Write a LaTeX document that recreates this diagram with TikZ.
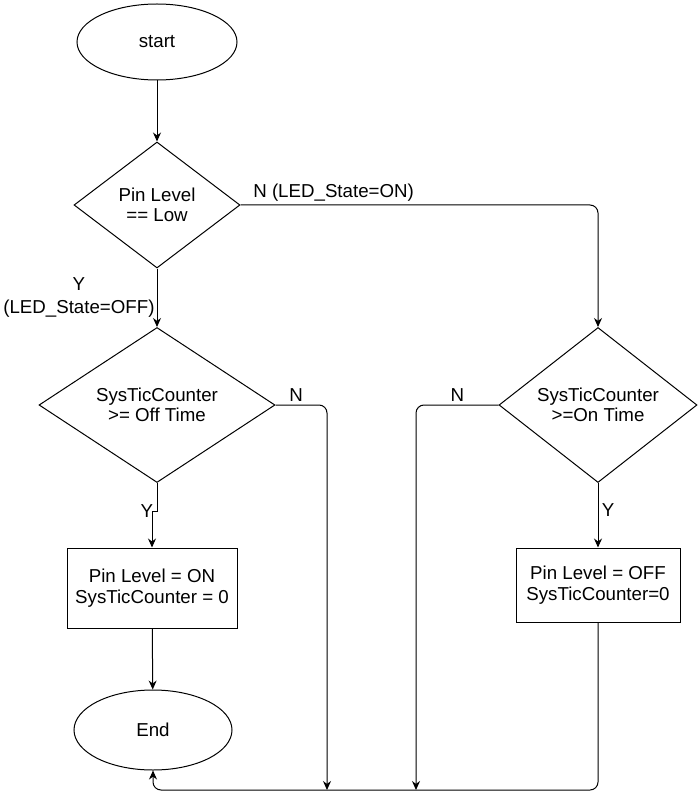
\documentclass[tikz,border=0pt]{standalone}
\usepackage{fontspec}
\setmainfont{Liberation Sans}
\usetikzlibrary{shapes.geometric,arrows.meta}

\tikzset{
  term/.style={ellipse,draw,minimum width=160pt,minimum height=76pt,inner sep=0pt},
  test/.style={diamond,draw,inner sep=0pt,align=center},
  job/.style={rectangle,draw,inner sep=0pt,align=center},
  flow/.style={-{Stealth[length=9pt,width=8pt]}},
}

\begin{document}
\begin{tikzpicture}[x=1pt,y=-1pt,line width=1pt,font=\fontsize{18.7}{20.5}\selectfont]
\useasboundingbox (0,0) rectangle (698,802);
% boxes
\node[term] (start) at (157,42) {start};
\node[test,minimum width=166pt,minimum height=126pt,shape aspect=1.3] (low) at (157,205) {Pin Level\\== Low};
\node[test,minimum width=236pt,minimum height=155pt,shape aspect=1.5] (offtime) at (157,405) {SysTicCounter\\>= Off Time};
\node[test,minimum width=198pt,minimum height=155pt,shape aspect=1.3] (ontime) at (598,405) {SysTicCounter\\>=On Time};
\node[job,minimum width=170pt,minimum height=80pt] (seton) at (152,588) {Pin Level = ON\\SysTicCounter = 0};
\node[job,minimum width=164pt,minimum height=74pt] (setoff) at (598,585) {Pin Level = OFF\\SysTicCounter=0};
\node[term,minimum width=158pt,minimum height=80pt] (end) at (153,730) {End};
\coordinate (floor) at (0,790);
\coordinate (offdrop) at (327,790);
\coordinate (ondrop) at (416,790);

% arrows
\draw[flow] (start) -- (low);
\draw[flow] (low) -- node[left,inner sep=2pt,align=center,font=\fontsize{18.7}{23}\selectfont] {Y\\(LED\_State=OFF)} (offtime);
\draw[flow,rounded corners=8pt] (low.east) -| node[pos=0,anchor=south west,xshift=9pt] {N (LED\_State=ON)} (ontime.north);
\draw[flow] (offtime.south) -- ++(0,28) node[left] {Y} -| (seton.north);
\draw[flow,rounded corners=8pt] (offtime.east) -| node[pos=0.2,above] {N} (offdrop);
\draw[flow,rounded corners=8pt] (ontime.west) -| node[pos=0.25,above] {N} (ondrop);
\draw[flow] (ontime) -- node[right,pos=0.42] {Y} (setoff);
\draw[flow] (seton) -- (end);
\draw[flow,rounded corners=8pt] (setoff.south) -- (setoff.south |- floor) -- (end.south |- floor) -- (end.south);
\end{tikzpicture}
\end{document}
